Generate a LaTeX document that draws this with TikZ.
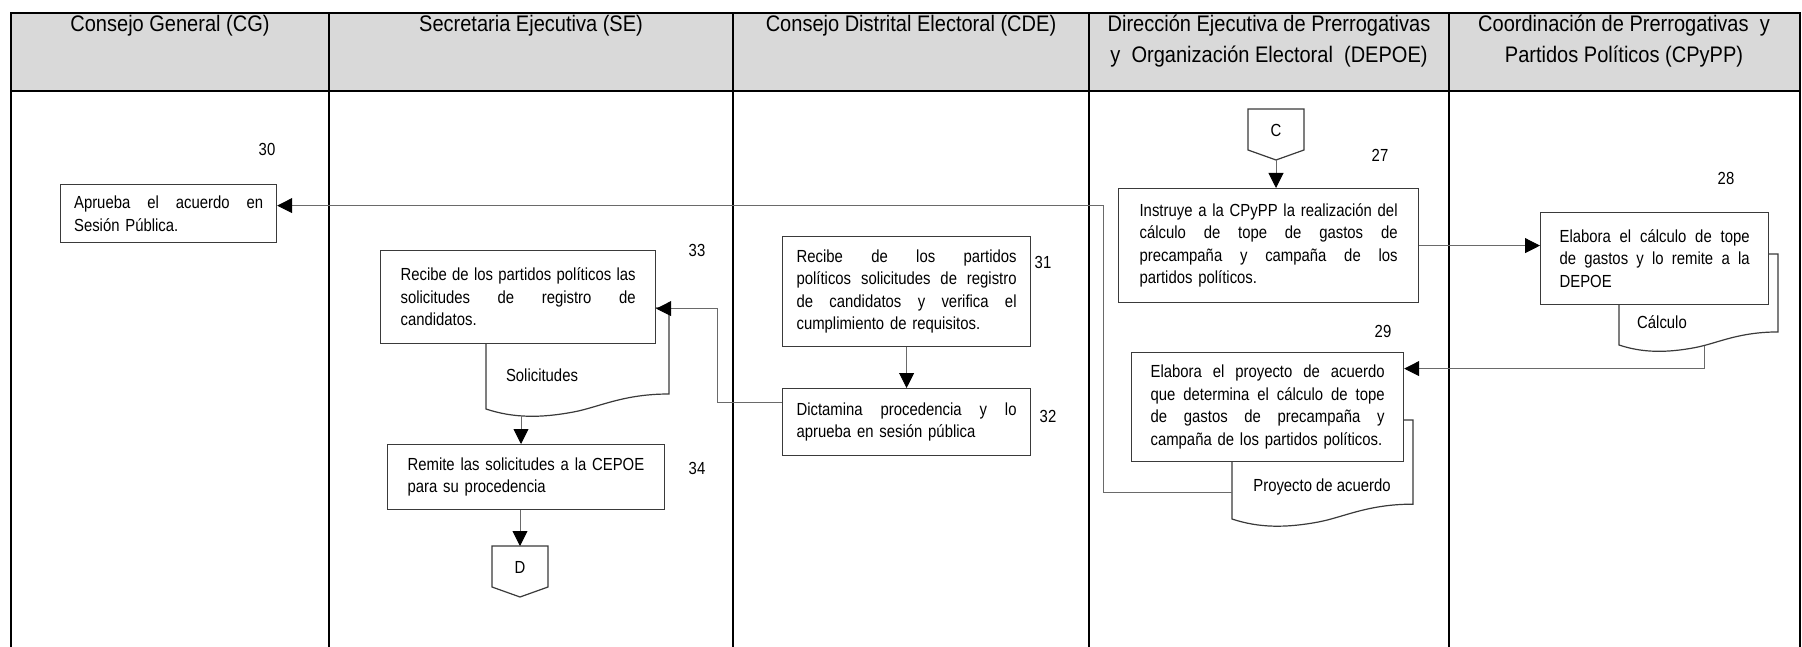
\documentclass[tikz,border=0pt]{standalone}
\usepackage{fontspec}
\setmainfont{Liberation Sans}[FakeStretch=0.85]
\newfontfamily\hdrfont{Liberation Sans}[FakeStretch=0.89]
\usetikzlibrary{arrows.meta}
\definecolor{hdrgray}{HTML}{D9D9D9}
\definecolor{boxline}{HTML}{3A3A3A}
\definecolor{conline}{HTML}{6A6A6A}
\newlength\jw
\newcommand\jl[1]{\leavevmode\hbox to \jw{\spaceskip=\fontdimen2\font plus 1fil\relax #1}}
\newcommand\bodyfs{\fontsize{17.5}{22.5}\selectfont}
\newcommand\hdrfs{\hdrfont\fontsize{22.5}{31}\selectfont}
\newcommand\docshp[4]{%
  \draw[docst] (#1,#2) -- (#1,#4)
   .. controls ({#1+0.15*(#3-#1)},{#4+0.05*(#3-#1)}) and ({#1+0.30*(#3-#1)},{#4+0.05*(#3-#1)})
   .. ({#1+0.48*(#3-#1)},{#4+0.016*(#3-#1)})
   .. controls ({#1+0.62*(#3-#1)},{#4-0.011*(#3-#1)}) and ({#1+0.75*(#3-#1)},{#4-0.082*(#3-#1)})
   .. (#3,{#4-0.082*(#3-#1)}) -- (#3,#2) -- cycle;}
\tikzset{
  frame/.style={draw=black, line width=1.4pt},
  hdr/.style={anchor=north, inner sep=0pt, align=center, font=\hdrfs},
  procbox/.style={draw=boxline, line width=1.2pt, fill=white, rectangle, anchor=north west,
    inner ysep=0pt, align=left, font=\bodyfs, text width=#1,
    execute at begin node={\setlength{\jw}{#1}}},
  docst/.style={draw=boxline, line width=1.2pt, fill=white},
  doclbl/.style={inner sep=0pt, font=\bodyfs},
  numlbl/.style={inner sep=0pt, font=\bodyfs},
  conn/.style={draw=conline, line width=0.9pt},
  arr/.style={conn, -{Triangle[width=15pt,length=15pt,color=black]}},
}
\begin{document}
\begin{tikzpicture}[x=1pt,y=-1pt]
\useasboundingbox (0,0) rectangle (1802,647);
% table frame
\fill[hdrgray] (11,13) rectangle (1800,91);
\draw[frame] (11,647) -- (11,13) -- (1800,13) -- (1800,647);
\foreach \cx in {329,733,1089,1449} \draw[frame] (\cx,13) -- (\cx,647);
\draw[frame, line width=2pt] (11,91) -- (1800,91);
% headers
\node[hdr] (h1) at (170,9.3) {\strut Consejo General (CG)};
\node[hdr] (h2) at (531,9.3) {\strut Secretaria Ejecutiva (SE)};
\node[hdr] (h3) at (911,9.3) {\strut Consejo Distrital Electoral (CDE)};
\node[hdr] (h4) at (1269,9.3) {\strut Dirección Ejecutiva de Prerrogativas\\y~ Organización Electoral~ (DEPOE)};
\node[hdr] (h5) at (1624,9.3) {\strut Coordinación de Prerrogativas~ y\\Partidos Políticos (CPyPP)};
% document shapes (behind boxes)
\docshp{486}{308}{669}{409}
\docshp{1619}{254}{1778}{345}
\docshp{1232}{420}{1413}{519}
\node[doclbl] (tSol) at (542,375) {Solicitudes};
\node[doclbl] (tCal) at (1662,322) {Cálculo};
\node[doclbl] (tPro) at (1322,487) {Proyecto de acuerdo};
\coordinate (dSol) at (521,416);
\coordinate (dCal) at (1704,346);
\coordinate (dPro) at (1232,492);
% off-page connectors
\draw[docst] (1248,109) -- (1304,109) -- (1304,150) -- (1276,160) -- (1248,150) -- cycle;
\node[doclbl] (cC) at (1276,130) {C};
\coordinate (Ctip) at (1276,160);
\draw[docst] (492,546) -- (548,546) -- (548,587) -- (520,597) -- (492,587) -- cycle;
\node[doclbl] (cD) at (520,567) {D};
\coordinate (Dtop) at (520,546);
% process boxes
\node[procbox=189pt, inner xsep=13.5pt, minimum height=58pt] (b30) at (60,184)
  {\jl{Aprueba el acuerdo en}\\\mbox{Sesión Pública.}};
\node[procbox=235pt, inner xsep=20pt, minimum height=93pt] (b33) at (380,250)
  {\jl{Recibe de los partidos políticos las}\\\jl{solicitudes de registro de}\\\mbox{candidatos.}};
\node[procbox=237pt, inner xsep=20pt, minimum height=65pt] (b34) at (387,444)
  {\mbox{Remite las solicitudes a la CEPOE}\\\mbox{para su procedencia}};
\node[procbox=220pt, inner xsep=14pt, minimum height=110pt] (b31) at (782,236)
  {\jl{Recibe de los partidos}\\\jl{políticos solicitudes de registro}\\\jl{de candidatos y verifica el}\\\mbox{cumplimiento de requisitos.}};
\node[procbox=220pt, inner xsep=14pt, minimum height=67pt] (b32) at (782,388)
  {\jl{Dictamina procedencia y lo}\\\mbox{aprueba en sesión pública}};
\node[procbox=258pt, inner xsep=21pt, minimum height=114pt] (b27) at (1118,188)
  {\jl{Instruye a la CPyPP la realización del}\\\jl{cálculo de tope de gastos de}\\\jl{precampaña y campaña de los}\\\mbox{partidos políticos.}};
\node[procbox=190pt, inner xsep=19pt, minimum height=92pt] (b28) at (1540,212)
  {\jl{Elabora el cálculo de tope}\\\jl{de gastos y lo remite a la}\\\mbox{DEPOE}};
\node[procbox=234pt, inner xsep=19pt, minimum height=109pt] (b29) at (1131,352)
  {\jl{Elabora el proyecto de acuerdo}\\\jl{que determina el cálculo de tope}\\\jl{de gastos de precampaña y}\\\mbox{campaña de los partidos políticos.}};
% step numbers
\node[numlbl] (n30) at (267,149) {30};
\node[numlbl] (n33) at (697,250) {33};
\node[numlbl] (n34) at (697,468) {34};
\node[numlbl] (n31) at (1043,262) {31};
\node[numlbl] (n32) at (1048,416) {32};
\node[numlbl] (n27) at (1380,155) {27};
\node[numlbl] (n28) at (1726,178) {28};
\node[numlbl] (n29) at (1383,331) {29};
% connectors
\draw[arr] (Ctip) -- (Ctip |- b27.north);
\draw[arr] (b27.east) -- (b27.east -| b28.west);
\draw[arr] (dCal) |- ([yshift=38.5pt]b29.east);
\draw[arr] (dPro) -- ++(-129,0) |- ([yshift=8pt]b30.east);
\draw[arr] (b31.south) -- (b32.north);
\draw[arr] ([yshift=19.5pt]b32.west) -- ++(-65,0) |- ([yshift=-11.5pt]b33.east);
\draw[arr] (dSol) -- (dSol |- b34.north);
\draw[arr] (Dtop |- b34.south) -- (Dtop);
\end{tikzpicture}
\end{document}
